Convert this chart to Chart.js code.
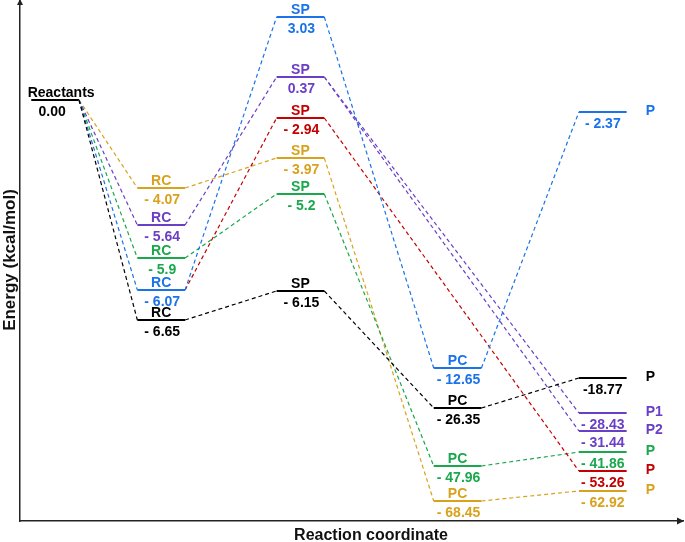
<!DOCTYPE html>
<html>
<head>
<meta charset="utf-8">
<script src="https://cdn.jsdelivr.net/npm/chart.js@4"></script>
<style>
  html, body { margin: 0; padding: 0; background: #fff; }
  #wrap { width: 685px; height: 542px; }
</style>
</head>
<body>
<div id="wrap"><canvas id="energyChart"></canvas></div>
<script>
// stages along the reaction coordinate
const stages = ['Reactants', 'RC', 'SP', 'PC', 'P'];
const stageCoord = [0.53, 2.13, 4.23, 6.6, 8.79];

// energies in kcal/mol, null = stage not on that pathway
const blackEnergy  = [0, -6.65, -6.15, -26.35, -18.77];
const blueEnergy   = [0, -6.07, 3.03, -12.65, -2.37];
const purpleEnergy = [0, -5.64, 0.37, null, -28.43];
const purple2Energy = [null, null, 0.37, null, -31.44];
const redEnergy    = [null, -6.07, -2.94, null, -53.26];
const greenEnergy  = [0, -5.9, -5.2, -47.96, -41.86];
const yellowEnergy = [0, -4.07, -3.97, -68.45, -62.92];

// height of each level in the diagram (the drawing is not to scale)
const blackLevel  = [421, 201, 230, 113, 143];
const blueLevel   = [421, 231, 504, 153, 409];
const purpleLevel = [421, 296, 444, null, 108];
const purple2Level = [null, null, 444, null, 90];
const redLevel    = [null, 231, 403, null, 50];
const greenLevel  = [421, 263, 327, 55, 69];
const yellowLevel = [421, 333, 363, 20, 30];

// product names in the last column
const productNames = ['P', 'P', 'P1', 'P2', 'P', 'P', 'P'];

const pathways = [
    { color: '#000000', energy: blackEnergy, level: blackLevel },
    { color: '#1a73e8', energy: blueEnergy, level: blueLevel },
    { color: '#6a3fc6', energy: purpleEnergy, level: purpleLevel },
    { color: '#6a3fc6', energy: purple2Energy, level: purple2Level },
    { color: '#c40000', energy: redEnergy, level: redLevel },
    { color: '#1aa84c', energy: greenEnergy, level: greenLevel },
    { color: '#d8a21e', energy: yellowEnergy, level: yellowLevel },
];

const halfWidth = 0.36;
const labelFont = 'bold 14px "Liberation Sans", Arial, sans-serif';

function fmt(v) {
    if (v === 0) return '0.00';
    return v < 0 ? '- ' + Math.abs(v) : String(v);
}

// build the points: first node of a path is only its right end,
// every following node is a flat level (start + end)
let datasets = [];
pathways.forEach((p, k) => {
    let pts = [];
    let first = true;
    for (let i = 0; i < stages.length; i++) {
        if (p.energy[i] === null) continue;
        if (!first) pts.push({ x: stageCoord[i] - halfWidth, y: p.level[i] });
        pts.push({ x: stageCoord[i] + halfWidth, y: p.level[i] });
        first = false;
    }
    datasets.push({
        data: pts,
        borderColor: p.color,
        borderWidth: 1.2,
        pointRadius: 0,
        segment: {
            borderDash: ctx => ctx.p0DataIndex % 2 === 1 ? [] : [4, 3],
            borderWidth: ctx => ctx.p0DataIndex % 2 === 1 ? 2 : 1.2,
        },
    });
});
// the reactants level
datasets.push({
    data: [
        { x: stageCoord[0] - halfWidth, y: blackLevel[0] },
        { x: stageCoord[0] + halfWidth, y: blackLevel[0] },
    ],
    borderColor: '#000',
    borderWidth: 2,
    pointRadius: 0,
});

const labelPlugin = {
    id: 'levelLabels',
    afterDatasetsDraw(chart) {
        const ctx = chart.ctx;
        const xs = chart.scales.x, ys = chart.scales.y;
        ctx.save();
        ctx.font = labelFont;
        pathways.forEach((p, k) => {
            let first = true;
            for (let i = 0; i < stages.length; i++) {
                if (p.energy[i] === null) continue;
                if (first && i > 0) { first = false; continue; }
                first = false;
                const cx = xs.getPixelForValue(stageCoord[i]);
                const py = ys.getPixelForValue(p.level[i]);
                ctx.fillStyle = i === 0 ? '#000' : p.color;
                ctx.textBaseline = 'alphabetic';
                ctx.textAlign = 'center';
                if (i === 0) {
                    if (k !== 0) continue;
                    ctx.fillText(stages[0], cx + 6, py - 3);
                    ctx.fillText(fmt(p.energy[0]), cx - 3, py + 16);
                } else if (i === stages.length - 1) {
                    // black product value is written without the gap
                    let txt = k === 0 ? String(p.energy[i]) : fmt(p.energy[i]);
                    ctx.fillText(txt, cx, py + 16);
                    ctx.textAlign = 'left';
                    ctx.textBaseline = 'middle';
                    ctx.fillText(productNames[k], cx + 43, py - 1);
                } else {
                    ctx.fillText(stages[i], cx, py - 3);
                    ctx.fillText(fmt(p.energy[i]), cx + 1, py + 16);
                }
            }
        });
        ctx.restore();
    },
    afterDraw(chart) {
        const ctx = chart.ctx;
        const a = chart.chartArea;
        ctx.save();
        ctx.fillStyle = '#222';
        // arrow heads
        ctx.beginPath();
        ctx.moveTo(a.right + 1, a.bottom);
        ctx.lineTo(a.right - 6, a.bottom - 3.5);
        ctx.lineTo(a.right - 6, a.bottom + 3.5);
        ctx.closePath();
        ctx.fill();
        ctx.beginPath();
        ctx.moveTo(a.left, a.top - 1);
        ctx.lineTo(a.left - 3, a.top + 5);
        ctx.lineTo(a.left + 3, a.top + 5);
        ctx.closePath();
        ctx.fill();
        // axis titles
        ctx.fillStyle = '#111';
        ctx.font = 'bold 16px "Liberation Sans", Arial, sans-serif';
        ctx.textAlign = 'center';
        ctx.textBaseline = 'alphabetic';
        ctx.fillText('Reaction coordinate', 371, 540);
        ctx.font = 'bold 17px "Liberation Sans", Arial, sans-serif';
        ctx.translate(15, 260);
        ctx.rotate(-Math.PI / 2);
        ctx.fillText('Energy (kcal/mol)', 0, 0);
        ctx.restore();
    }
};

new Chart(document.getElementById('energyChart'), {
    type: 'line',
    data: { datasets: datasets },
    options: {
        responsive: true,
        maintainAspectRatio: false,
        animation: false,
        layout: { padding: { top: 0, right: 2, bottom: 0, left: 0 } },
        plugins: { legend: { display: false }, tooltip: { enabled: false } },
        scales: {
            x: {
                type: 'linear', min: 0, max: 10,
                grid: { display: false },
                ticks: { display: false },
                border: { display: true, color: '#222', width: 1.5 },
                afterFit: s => { s.height = 21; },
            },
            y: {
                type: 'linear', min: 0, max: 521,
                grid: { display: false },
                ticks: { display: false },
                border: { display: true, color: '#222', width: 1.5 },
                afterFit: s => { s.width = 20; },
            }
        }
    },
    plugins: [labelPlugin]
});
</script>
</body>
</html>
